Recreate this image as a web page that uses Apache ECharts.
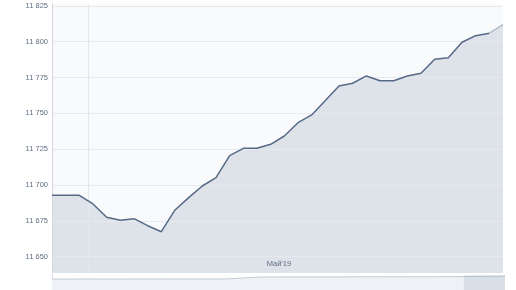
<!DOCTYPE html>
<html><head><meta charset="utf-8">
<script src="https://cdn.jsdelivr.net/npm/echarts@6/dist/echarts.min.js"></script>
<style>html,body{margin:0;padding:0;background:#fff}#c{width:516px;height:290px}</style>
</head><body><div id="c"></div>
<script>
// Main series: daily index values (ordinal positions 0..33)
const values = [11692.8, 11692.8, 11692.8, 11686.8, 11677.5, 11675.4, 11676.5, 11671.6, 11667.4, 11682.6,
  11691.2, 11699.3, 11705.1, 11720.5, 11725.6, 11725.6, 11728.4, 11734.2, 11743.5, 11748.9,
  11759.0, 11769.1, 11771.0, 11776.1, 11772.8, 11772.8, 11776.1, 11778.0, 11787.7, 11788.8,
  11799.6, 11804.2, 11805.9, 11811.9];
const yTicks = [11650, 11675, 11700, 11725, 11750, 11775, 11800, 11825];
const xLabels = ["Май'19"];
const xLabelPos = [16.6];
const xGridPos = [2.67];
// Navigator (overview) series
const navValues = [11728, 11730, 11729, 11731, 11730, 11732, 11790, 11794, 11793, 11796, 11795, 11799, 11803, 11812];
const navWindow = [11.82, 13];

const fmt = v => String(Math.round(v)).replace(/\B(?=(\d{3})+(?!\d))/g, ' ');
const allData = values.map((v, i) => [i, v]);
const mainData = values.slice(0, values.length - 1).map((v, i) => [i, v]);
const lastData = values.slice(values.length - 2).map((v, i) => [values.length - 2 + i, v]);
const navData = navValues.map((v, i) => [i, v]);

const chart = echarts.init(document.getElementById('c'), null, {renderer: 'canvas'});
chart.setOption({
  animation: false,
  textStyle: {fontFamily: 'Liberation Sans'},
  grid: [
    {left: 52, right: 13, top: 4, bottom: 17, show: true, backgroundColor: '#f9fafb', borderWidth: 0},
    {left: 52, right: 11, top: 275, height: 15, show: true, backgroundColor: '#ffffff', borderWidth: 0}
  ],
  xAxis: [
    {type: 'value', gridIndex: 0, min: 0, max: values.length - 1, z: 5,
     axisLine: {show: false},
     axisTick: {show: false, customValues: xGridPos},
     splitLine: {show: true, lineStyle: {color: '#e3e7ec', width: 1}},
     axisLabel: {show: true, inside: true, margin: 5, customValues: xLabelPos,
       formatter: () => xLabels[0], color: '#5f6e82', fontSize: 7.5}},
    {type: 'value', gridIndex: 1, min: 0, max: navValues.length - 1,
     axisLine: {show: false}, axisTick: {show: false}, splitLine: {show: false}, axisLabel: {show: false}}
  ],
  yAxis: [
    {type: 'value', gridIndex: 0, min: 11638.6, max: 11826.3, z: 5,
     axisLine: {show: true, lineStyle: {color: '#d3d8df'}},
     axisTick: {show: false, customValues: yTicks},
     splitLine: {show: true, lineStyle: {color: '#e6e9ee', width: 1}},
     axisLabel: {customValues: yTicks, formatter: fmt, color: '#5f6e82', fontSize: 7.5, margin: 4}},
    {type: 'value', gridIndex: 1, min: 11400, max: 11850,
     axisLine: {show: true, lineStyle: {color: '#d3d8df'}},
     axisTick: {show: false}, splitLine: {show: false}, axisLabel: {show: false}}
  ],
  series: [
    {type: 'line', xAxisIndex: 0, yAxisIndex: 0, data: allData, symbol: 'none', z: 2,
     lineStyle: {width: 0, opacity: 0},
     areaStyle: {color: 'rgba(157,173,194,0.42)', origin: 'start'}},
    {type: 'line', xAxisIndex: 0, yAxisIndex: 0, data: mainData, symbol: 'none', z: 8,
     lineStyle: {color: '#566a87', width: 1.5}},
    {type: 'line', xAxisIndex: 0, yAxisIndex: 0, data: lastData, symbol: 'none', z: 8,
     lineStyle: {color: '#b0bccb', width: 1.5}},
    {type: 'line', xAxisIndex: 1, yAxisIndex: 1, data: navData, symbol: 'none', z: 2,
     lineStyle: {color: '#c3ccd7', width: 1},
     areaStyle: {color: '#eef1f5', opacity: 1, origin: 'start'},
     markArea: {silent: true, z: 10, itemStyle: {color: 'rgba(150,166,188,0.24)', borderWidth: 0},
       data: [[{xAxis: navWindow[0], yAxis: 11400}, {xAxis: navWindow[1], yAxis: 11850}]]}}
  ]
});
</script></body></html>
